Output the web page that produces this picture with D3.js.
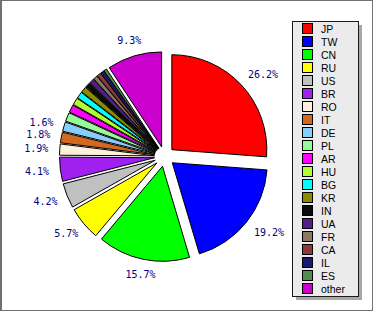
<!DOCTYPE html>
<html>
<head>
<meta charset="utf-8">
<script src="https://cdn.jsdelivr.net/npm/d3@7"></script>
<style>
  html, body { margin: 0; padding: 0; background: #fff; }
  svg { display: block; }
</style>
</head>
<body>
<svg id="pieVis" width="373" height="311" viewBox="0 0 373 311"></svg>
<script>
(function () {
    // === Data ===
    const countries = ["JP", "TW", "CN", "RU", "US", "BR", "RO", "IT", "DE", "PL",
        "AR", "HU", "BG", "KR", "IN", "UA", "FR", "CA", "IL", "ES", "other"];
    const shares = [26.2, 19.2, 15.7, 5.7, 4.2, 4.1, 1.9, 1.8, 1.6, 1.5,
        1.3, 1.2, 1.1, 1.0, 0.9, 0.8, 0.7, 0.7, 0.6, 0.5, 9.3];
    const colors = ["#ff0000", "#0000ff", "#00ff00", "#ffff00", "#c0c0c0", "#a020f0",
        "#fff0dc", "#d2691e", "#87cefa", "#98fb98", "#ff00ff", "#adff2f", "#00ffff",
        "#8b8b00", "#0a0a0a", "#551a8b", "#8b7765", "#8b3a3a", "#191970", "#548b54", "#cc00cc"];
    const labelMin = 1.6; // smaller slices get no percentage label

    const svg = d3.select("#pieVis");
    const W = 373, H = 311;

    // outer frame
    svg.append("rect")
        .attr("x", 0.5).attr("y", 0.5)
        .attr("width", W - 1).attr("height", H - 1)
        .attr("fill", "#fff")
        .attr("stroke", "#707070");
    svg.append("line")
        .attr("x1", 1.5).attr("x2", 1.5).attr("y1", 0).attr("y2", H)
        .attr("stroke", "#707070");

    // === Pie ===
    const cx = 164.5, cy = 156.5, radius = 95, explode = 10;
    const data = countries.map((c, i) => ({ name: c, value: shares[i], color: colors[i] }));

    const pie = d3.pie().sort(null).value(d => d.value);
    const arc = d3.arc().innerRadius(0).outerRadius(radius);
    const arcs = pie(data);

    const g = svg.append("g").attr("transform", `translate(${cx},${cy})`);

    g.selectAll("path")
        .data(arcs)
        .join("path")
        .attr("d", arc)
        .attr("transform", d => {
            const a = (d.startAngle + d.endAngle) / 2;
            return `translate(${explode * Math.sin(a)},${-explode * Math.cos(a)})`;
        })
        .attr("fill", d => d.data.color)
        .attr("stroke", "#000")
        .attr("stroke-width", 1)
        .attr("stroke-linejoin", "round");

    // percentage labels on an oval ring around the pie
    const total = d3.sum(shares);
    const lrx = 131, lry = 121, ldx = 2.5;
    g.selectAll("text.pct")
        .data(arcs.filter(d => d.data.value >= labelMin))
        .join("text")
        .attr("class", "pct")
        .attr("x", d => ldx + lrx * Math.sin((d.startAngle + d.endAngle) / 2))
        .attr("y", d => -lry * Math.cos((d.startAngle + d.endAngle) / 2))
        .attr("text-anchor", "middle")
        .attr("dominant-baseline", "central")
        .style("font", "10px 'DejaVu Sans Mono', monospace")
        .attr("fill", "#000080")
        .text(d => (d.data.value / total * 100).toFixed(1) + "%");

    // === Legend ===
    const lx = 292.5, ly = 21.5, lw = 66, lh = 275, step = 13;
    const legend = svg.append("g");
    legend.append("rect")
        .attr("x", lx + 3.5).attr("y", ly + 3.5)
        .attr("width", lw).attr("height", lh)
        .attr("fill", "#a8a8a8");
    legend.append("rect")
        .attr("x", lx).attr("y", ly)
        .attr("width", lw).attr("height", lh)
        .attr("fill", "#ebebeb")
        .attr("stroke", "#1a1a1a");

    const items = legend.selectAll("g.item")
        .data(data)
        .join("g")
        .attr("class", "item")
        .attr("transform", (d, i) => `translate(0,${29 + i * step})`);

    items.append("rect")
        .attr("x", 302.5).attr("y", -5.5)
        .attr("width", 10).attr("height", 10)
        .attr("fill", d => d.color)
        .attr("stroke", "#000");

    items.append("text")
        .attr("x", 321)
        .attr("y", 0)
        .attr("dominant-baseline", "central")
        .style("font", "10.5px 'Liberation Sans Narrow', 'Liberation Sans', sans-serif")
        .attr("fill", "#000")
        .text(d => d.name);
})();
</script>
</body>
</html>
